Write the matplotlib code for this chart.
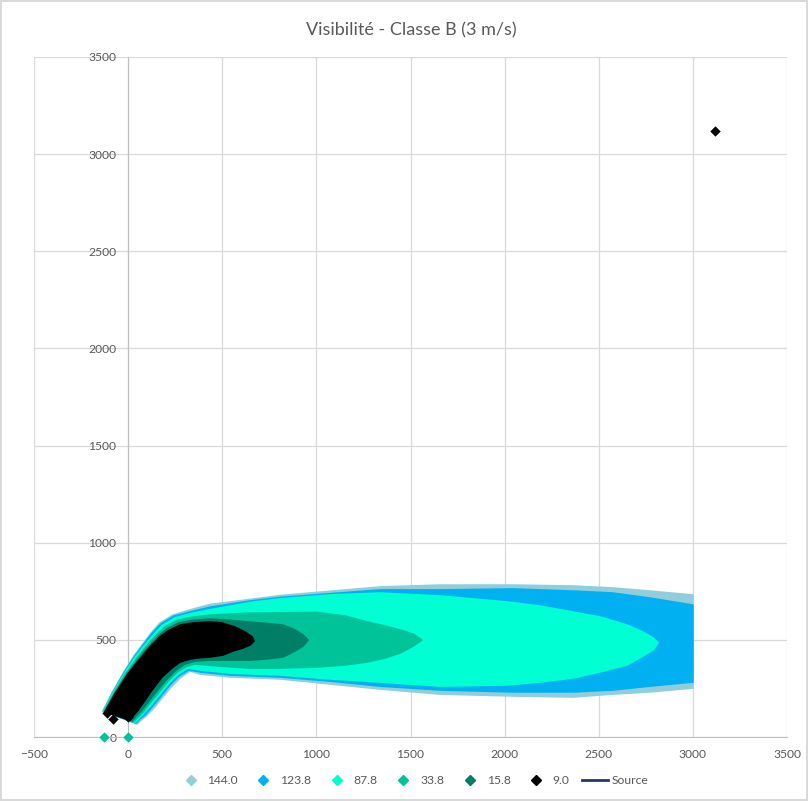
import matplotlib
matplotlib.use("Agg")
import matplotlib.pyplot as plt

plt.rcParams['font.family'] = ['Lato', 'DejaVu Sans']

title = 'Visibilité - Classe B (3 m/s)'
labels = ['144.0', '123.8', '87.8', '33.8', '15.8', '9.0']
colors = ['#92CDDC', '#00B0F0', '#00FFD2', '#00C39A', '#007F66', '#000000']
source_color = '#1F3864'

# zone outlines (x, y in m)
x_144 = [-133, -86, -22, 31, 79, 122, 169, 239, 329, 435, 648, 807, 1338, 1657, 2045, 2364, 2576, 2772, 3000,
         3000, 2772, 2576, 2364, 2045, 1657, 1338, 1072, 807, 541, 382, 329, 276, 228, 180, 132, 95, 69, 47]
y_144 = [134, 226, 334, 417, 479, 535, 587, 628, 654, 682, 708, 728, 772, 782, 782, 777, 767, 751, 731,
         252, 232, 221, 206, 211, 221, 247, 273, 299, 309, 324, 340, 304, 257, 201, 144, 108, 87, 67]

x_123 = [-132, -83, -19, 35, 83, 127, 175, 243, 331, 435, 648, 807, 1338, 1657, 2045, 2364, 2576, 2772, 3000,
         3000, 2772, 2576, 2364, 2045, 1657, 1338, 1072, 807, 541, 382, 323, 270, 223, 175, 127, 90, 63, 42]
y_123 = [133, 226, 334, 415, 477, 533, 582, 622, 644, 668, 700, 718, 757, 757, 762, 751, 741, 715, 679,
         283, 262, 242, 232, 232, 242, 262, 288, 309, 319, 335, 345, 314, 268, 211, 154, 113, 93, 72]

x_87 = [-130, -81, -16, 40, 90, 137, 181, 249, 333, 435, 648, 807, 1072, 1338, 1657, 2013, 2188, 2364, 2507,
        2651, 2735, 2788, 2815, 2788, 2735, 2651, 2507, 2364, 2188, 2013, 1657, 1338, 1072, 807, 541, 382,
        318, 265, 217, 169, 122, 84, 58, 37]
y_87 = [132, 225, 331, 413, 474, 528, 574, 613, 635, 655, 692, 711, 731, 741, 726, 695, 674, 643, 618,
        576, 540, 510, 484, 448, 417, 371, 335, 304, 283, 268, 262, 283, 299, 319, 329, 345,
        355, 324, 278, 221, 165, 124, 98, 77]

x_33 = [-127, -76, -10, 49, 100, 149, 193, 259, 337, 435, 648, 1003, 1152, 1269, 1365, 1444, 1514, 1561,
        1514, 1444, 1365, 1269, 1152, 1003, 807, 648, 488, 355, 313, 260, 212, 164, 116, 79, 53, 31]
y_33 = [131, 223, 329, 408, 470, 524, 564, 600, 616, 627, 638, 641, 623, 592, 571, 551, 530, 499,
        468, 432, 407, 386, 371, 360, 355, 355, 365, 376, 365, 335, 288, 232, 175, 129, 103, 82]

x_15 = [-125, -73, -5, 57, 109, 160, 203, 269, 342, 435, 525, 701, 823, 887, 929, 956,
        929, 887, 823, 727, 648, 541, 435, 355, 302, 254, 201, 148, 106, 69, 42, 21]
y_15 = [130, 222, 326, 405, 466, 519, 554, 587, 600, 607, 602, 587, 576, 551, 525, 499,
        468, 443, 412, 401, 396, 396, 396, 391, 376, 345, 293, 232, 180, 134, 108, 82]

x_9 = [-123, -70, -1, 63, 116, 169, 212, 276, 345, 435, 499, 568, 622, 659, 669,
       648, 610, 557, 504, 435, 366, 329, 276, 239, 180, 127, 90, 53, 26, 10]
y_9 = [129, 221, 324, 401, 463, 515, 546, 576, 587, 592, 587, 566, 540, 515, 494,
       474, 458, 443, 422, 412, 407, 401, 386, 360, 309, 242, 190, 139, 108, 87]

# single diamonds standing apart from the zones
x_33_pts = [-130, 0]
y_33_pts = [0, 0]
x_9_pts = [-112, -80, 0, 3120]
y_9_pts = [124, 93, 103, 3120]

fig = plt.figure(figsize=(8.08, 8.01), dpi=100)
fig.patch.set_edgecolor('#D9D9D9')
fig.patch.set_linewidth(1.5)
ax = fig.add_axes([34 / 808, 1 - 737 / 801, 753 / 808, 680 / 801])

zones = [(x_144, y_144), (x_123, y_123), (x_87, y_87), (x_33, y_33), (x_15, y_15), (x_9, y_9)]
for (xs, ys), c in zip(zones, colors):
    ax.fill(xs, ys, facecolor=c, edgecolor=c, linewidth=1.2, joinstyle='round', zorder=3)

ax.scatter(x_33_pts, y_33_pts, marker='D', s=28, color=colors[3], linewidths=0, zorder=4, clip_on=False)
ax.scatter(x_9_pts, y_9_pts, marker='D', s=28, color=colors[5], linewidths=0, zorder=4)

# legend proxies
for lab, c in zip(labels, colors):
    ax.plot([], [], linestyle='none', marker='D', markersize=5, color=c, label=lab)
ax.plot([], [], color=source_color, linewidth=2, label='Source')

ax.set_xlim(-500, 3500)
ax.set_ylim(0, 3500)
ax.set_xticks(range(-500, 3501, 500))
ax.set_yticks(range(0, 3501, 500))
ax.grid(True, color='#D9D9D9', linewidth=0.9)
ax.set_axisbelow(True)

for side in ['top', 'right']:
    ax.spines[side].set_visible(False)
ax.spines['left'].set_position(('data', 0))
ax.spines['left'].set_color('#BFBFBF')
ax.spines['bottom'].set_color('#BFBFBF')
ax.spines['left'].set_zorder(2.5)
ax.tick_params(axis='both', length=0, labelsize=8.7, labelcolor='#595959', pad=8.5)

fig.text(411 / 808, 1 - 30 / 801, title, ha='center', va='center', fontsize=13, color='#595959')

fig.legend(loc='center', bbox_to_anchor=(413 / 808, 1 - 781 / 801), ncol=7, frameon=False,
           fontsize=8.7, labelcolor='#595959', handlelength=2.2, handletextpad=0.3, columnspacing=1.0)

fig.savefig('out.png', dpi=100)
